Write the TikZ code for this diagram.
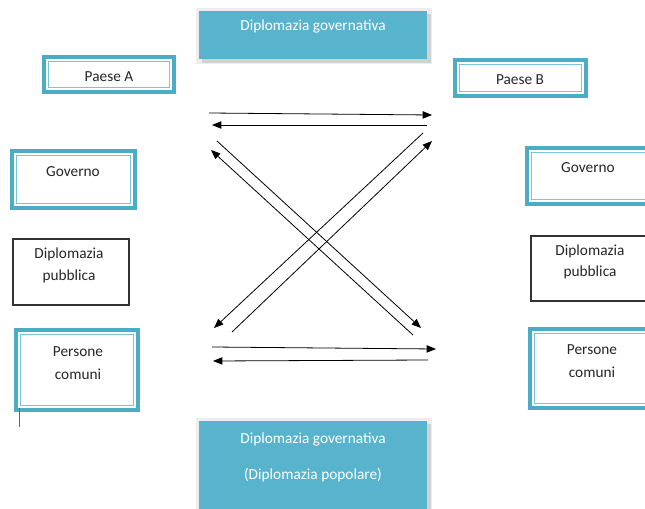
\documentclass[tikz,border=0pt]{standalone}
\usepackage{fontspec}
\setmainfont{Carlito}
\usetikzlibrary{arrows.meta}
\definecolor{tealc}{RGB}{75,172,198}
\definecolor{tealin}{RGB}{120,196,216}
\definecolor{fillc}{RGB}{88,180,204}
\newcommand\mkbox[6]{%
  \node[#6, minimum width={(#4-#2-4)*0.75pt}, minimum height={(#5-#3-4)*0.75pt}] (#1) at ({(#2+#4)/2},{(#3+#5)/2}) {};}
\newcommand\innerline[1]{%
  \draw[tealin, line width=0.75pt] ([shift={(3.4pt,-3.4pt)}]#1.north west) rectangle ([shift={(-3.4pt,3.4pt)}]#1.south east);}
\tikzset{
  dbox/.style={draw=tealc, line width=3pt, inner sep=0pt, outer sep=0pt},
  pbox/.style={draw=black!80, line width=0.8pt, inner sep=0pt, outer sep=0pt},
  lbl/.style={font=\fontsize{11.5}{13}\selectfont, text=black!85, inner sep=0pt},
  wlbl/.style={font=\fontsize{11.5}{13}\selectfont, text=white, inner sep=0pt},
  arr/.style={-{Triangle[length=7pt,width=5.5pt]}, line width=0.6pt, black}
}
\begin{document}
\begin{tikzpicture}[x=0.75pt,y=-0.75pt]
\useasboundingbox (0,0) rectangle (645,509);
\fill[white] (0,0) rectangle (645,509);
% top governmental box with shadow
\fill[black!7] (196,8) rectangle (432,64);
\fill[black!18] (202,14) rectangle (431,63);
\node[fill=fillc, inner sep=0pt, minimum width={228*0.75pt}, minimum height={48*0.75pt}] (gov) at (313,35) {};
\node[wlbl] (govt) at (313,26) {Diplomazia governativa};
% bottom box with shadow
\fill[black!7] (196,418) rectangle (432,515);
\fill[black!18] (202,424) rectangle (431,515);
\node[fill=fillc, inner sep=0pt, minimum width={228*0.75pt}, minimum height={92*0.75pt}] (pop) at (313,467) {};
\node[wlbl] (popt1) at (313,439) {Diplomazia governativa};
\node[wlbl] (popt2) at (313,475) {(Diplomazia popolare)};
% left column
\mkbox{paeseA}{42}{55}{176}{94}{dbox}\innerline{paeseA}
\node[lbl] (paeseAt) at (109,77) {Paese A};
\mkbox{govA}{10}{149}{137}{210}{dbox}\innerline{govA}
\node[lbl] (govAt) at (73,172) {Governo};
\mkbox{dpA}{11}{237}{131}{307}{pbox}
\node[lbl] (dpAt1) at (69,254) {Diplomazia};
\node[lbl] (dpAt2) at (69,276) {pubblica};
\mkbox{pcA}{14}{328}{140}{412}{dbox}\innerline{pcA}
\node[lbl] (pcAt1) at (78,352) {Persone};
\node[lbl] (pcAt2) at (78,374) {comuni};
\draw[black!60, line width=0.75pt] (19,408) -- (19,427);
% right column
\mkbox{paeseB}{453}{58}{588}{98}{dbox}\innerline{paeseB}
\node[lbl] (paeseBt) at (520,80) {Paese B};
\mkbox{govB}{525}{146}{660}{206}{dbox}\innerline{govB}
\node[lbl] (govBt) at (588,168) {Governo};
\mkbox{dpB}{529}{234}{660}{303}{pbox}
\node[lbl] (dpBt1) at (590,251) {Diplomazia};
\node[lbl] (dpBt2) at (590,272) {pubblica};
\mkbox{pcB}{528}{327}{660}{410}{dbox}\innerline{pcB}
\node[lbl] (pcBt1) at (592,350) {Persone};
\node[lbl] (pcBt2) at (592,372) {comuni};
% arrow end points
\coordinate (a1s) at (209,113); \coordinate (a1e) at (432,115);
\coordinate (a2s) at (427,125); \coordinate (a2e) at (212,125);
\coordinate (a3s) at (217,141); \coordinate (a3e) at (421,328);
\coordinate (a4s) at (413,335); \coordinate (a4e) at (211,150);
\coordinate (a5s) at (423,133); \coordinate (a5e) at (214,328);
\coordinate (a6s) at (232,332); \coordinate (a6e) at (432,141);
\coordinate (a7s) at (212,347); \coordinate (a7e) at (436,349);
\coordinate (a8s) at (428,360); \coordinate (a8e) at (213,361);
\foreach \i in {1,...,8} {\draw[arr] (a\i s) -- (a\i e);}
\end{tikzpicture}
\end{document}
